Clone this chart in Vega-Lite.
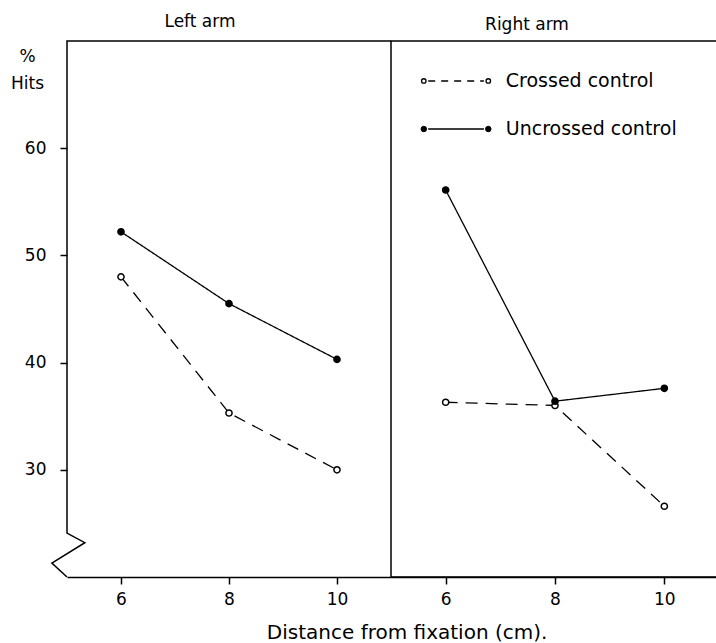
{
  "$schema": "https://vega.github.io/schema/vega-lite/v6.json",
  "padding": {"left": 10, "top": 13, "right": 0, "bottom": 2},
  "bounds": "flush",
  "datasets": {
    "hits": [
      {"arm": "Left arm", "control": "Crossed control", "distance": 6, "hits": 48.0},
      {"arm": "Left arm", "control": "Crossed control", "distance": 8, "hits": 35.3},
      {"arm": "Left arm", "control": "Crossed control", "distance": 10, "hits": 30.0},
      {"arm": "Left arm", "control": "Uncrossed control", "distance": 6, "hits": 52.2},
      {"arm": "Left arm", "control": "Uncrossed control", "distance": 8, "hits": 45.5},
      {"arm": "Left arm", "control": "Uncrossed control", "distance": 10, "hits": 40.3},
      {"arm": "Right arm", "control": "Crossed control", "distance": 6, "hits": 36.3},
      {"arm": "Right arm", "control": "Crossed control", "distance": 8, "hits": 36.0},
      {"arm": "Right arm", "control": "Crossed control", "distance": 10, "hits": 26.6},
      {"arm": "Right arm", "control": "Uncrossed control", "distance": 6, "hits": 56.1},
      {"arm": "Right arm", "control": "Uncrossed control", "distance": 8, "hits": 36.4},
      {"arm": "Right arm", "control": "Uncrossed control", "distance": 10, "hits": 37.6}
    ],
    "frame": [
      {"i": 0, "x": 11, "y": 70},
      {"i": 1, "x": 5, "y": 70},
      {"i": 2, "x": 5, "y": 24.1},
      {"i": 3, "x": 5.33, "y": 23.2},
      {"i": 4, "x": 4.72, "y": 21.3},
      {"i": 5, "x": 5, "y": 20}
    ],
    "crossedLabel": [{"label": "Crossed control"}],
    "uncrossedLabel": [{"label": "Uncrossed control"}]
  },
  "title": {
    "text": "Distance from fixation (cm).",
    "orient": "bottom",
    "anchor": "middle",
    "fontSize": 20,
    "offset": 15,
    "dx": 42
  },
  "spacing": 0,
  "hconcat": [
    {
      "width": 324,
      "height": 536,
      "title": {"text": "Left arm", "dx": -29},
      "view": {"stroke": null},
      "layer": [
        {
          "data": {"name": "frame"},
          "mark": {"type": "line", "color": "black", "strokeWidth": 1.5, "clip": false},
          "encoding": {
            "x": {"field": "x", "type": "quantitative", "scale": {"domain": [5, 11], "nice": false, "zero": false}},
            "y": {"field": "y", "type": "quantitative", "scale": {"domain": [20, 70], "nice": false, "zero": false}},
            "order": {"field": "i"}
          }
        },
        {
          "data": {"name": "hits"},
          "transform": [{"filter": "datum.arm === 'Left arm'"}],
          "mark": {"type": "line", "color": "black", "strokeWidth": 1.3},
          "encoding": {
            "x": {"field": "distance", "type": "quantitative"},
            "y": {"field": "hits", "type": "quantitative"},
            "strokeDash": {"field": "control", "type": "nominal", "scale": {"domain": ["Crossed control", "Uncrossed control"], "range": [[12, 8], [1, 0]]}, "legend": null}
          }
        },
        {
          "data": {"name": "hits"},
          "transform": [{"filter": "datum.arm === 'Left arm'"}],
          "mark": {"type": "circle", "stroke": "black", "strokeWidth": 1.5, "size": 38, "opacity": 1},
          "encoding": {
            "x": {"field": "distance", "type": "quantitative"},
            "y": {"field": "hits", "type": "quantitative"},
            "fill": {"field": "control", "type": "nominal", "scale": {"domain": ["Crossed control", "Uncrossed control"], "range": ["white", "black"]}, "legend": null}
          }
        }
      ],
      "encoding": {
        "x": {"axis": {"values": [6, 8, 10], "format": "d", "title": null, "domain": true}},
        "y": {"axis": {"values": [30, 40, 50, 60], "format": "d", "title": ["%", "Hits"], "domain": false, "titleAngle": 0, "titleAlign": "center", "titleBaseline": "top", "titleX": -40, "titleY": 7, "titleFontSize": 17, "titleLineHeight": 27}}
      }
    },
    {
      "width": 328,
      "height": 536,
      "title": {"text": "Right arm", "dx": -28},
      "layer": [
        {
          "data": {"name": "hits"},
          "transform": [{"filter": "datum.arm === 'Right arm'"}],
          "mark": {"type": "line", "color": "black", "strokeWidth": 1.3},
          "encoding": {
            "x": {"field": "distance", "type": "quantitative", "scale": {"domain": [5, 11], "nice": false, "zero": false}, "axis": {"values": [6, 8, 10], "format": "d", "title": null}},
            "y": {"field": "hits", "type": "quantitative", "scale": {"domain": [20, 70], "nice": false, "zero": false}, "axis": null},
            "strokeDash": {"field": "control", "type": "nominal", "scale": {"domain": ["Crossed control", "Uncrossed control"], "range": [[12, 8], [1, 0]]}, "legend": null}
          }
        },
        {
          "data": {"name": "hits"},
          "transform": [{"filter": "datum.arm === 'Right arm'"}],
          "mark": {"type": "circle", "stroke": "black", "strokeWidth": 1.5, "size": 38, "opacity": 1},
          "encoding": {
            "x": {"field": "distance", "type": "quantitative"},
            "y": {"field": "hits", "type": "quantitative"},
            "fill": {"field": "control", "type": "nominal", "scale": {"domain": ["Crossed control", "Uncrossed control"], "range": ["white", "black"]}, "legend": null}
          }
        },
        {
          "data": {"name": "crossedLabel"},
          "mark": {"type": "rule", "color": "black", "strokeWidth": 1.3, "strokeDash": [7, 6]},
          "encoding": {"x": {"datum": 5.68}, "x2": {"datum": 6.70}, "y": {"datum": 66.27}}
        },
        {
          "data": {"name": "crossedLabel"},
          "mark": {"type": "circle", "fill": "white", "stroke": "black", "strokeWidth": 1.3, "size": 20, "opacity": 1},
          "encoding": {"x": {"datum": 5.60}, "y": {"datum": 66.27}}
        },
        {
          "data": {"name": "crossedLabel"},
          "mark": {"type": "circle", "fill": "white", "stroke": "black", "strokeWidth": 1.3, "size": 20, "opacity": 1},
          "encoding": {"x": {"datum": 6.78}, "y": {"datum": 66.27}}
        },
        {
          "data": {"name": "crossedLabel"},
          "mark": {"type": "text", "align": "left", "baseline": "middle", "fontSize": 19, "font": "DejaVu Sans", "color": "black"},
          "encoding": {"x": {"datum": 7.10}, "y": {"datum": 66.27}, "text": {"field": "label"}}
        },
        {
          "data": {"name": "uncrossedLabel"},
          "mark": {"type": "rule", "color": "black", "strokeWidth": 1.3},
          "encoding": {"x": {"datum": 5.68}, "x2": {"datum": 6.70}, "y": {"datum": 61.79}}
        },
        {
          "data": {"name": "uncrossedLabel"},
          "mark": {"type": "circle", "fill": "black", "stroke": "black", "strokeWidth": 1, "size": 30, "opacity": 1},
          "encoding": {"x": {"datum": 5.60}, "y": {"datum": 61.79}}
        },
        {
          "data": {"name": "uncrossedLabel"},
          "mark": {"type": "circle", "fill": "black", "stroke": "black", "strokeWidth": 1, "size": 30, "opacity": 1},
          "encoding": {"x": {"datum": 6.78}, "y": {"datum": 61.79}}
        },
        {
          "data": {"name": "uncrossedLabel"},
          "mark": {"type": "text", "align": "left", "baseline": "middle", "fontSize": 19, "font": "DejaVu Sans", "color": "black"},
          "encoding": {"x": {"datum": 7.10}, "y": {"datum": 61.79}, "text": {"field": "label"}}
        }
      ]
    }
  ],
  "config": {
    "font": "DejaVu Sans",
    "background": "white",
    "view": {"stroke": "black", "strokeWidth": 1.5},
    "axis": {
      "grid": false,
      "labelFont": "DejaVu Sans",
      "labelFontSize": 17,
      "labelColor": "black",
      "tickColor": "black",
      "tickSize": 7,
      "tickWidth": 1.5,
      "domainColor": "black",
      "domainWidth": 1.5,
      "titleColor": "black",
      "titleFont": "DejaVu Sans",
      "titleFontWeight": "normal"
    },
    "axisX": {"labelPadding": 7},
    "axisY": {"labelPadding": 14},
    "title": {"font": "DejaVu Sans", "fontSize": 17, "fontWeight": "normal", "color": "black", "baseline": "alphabetic", "offset": 7}
  }
}
